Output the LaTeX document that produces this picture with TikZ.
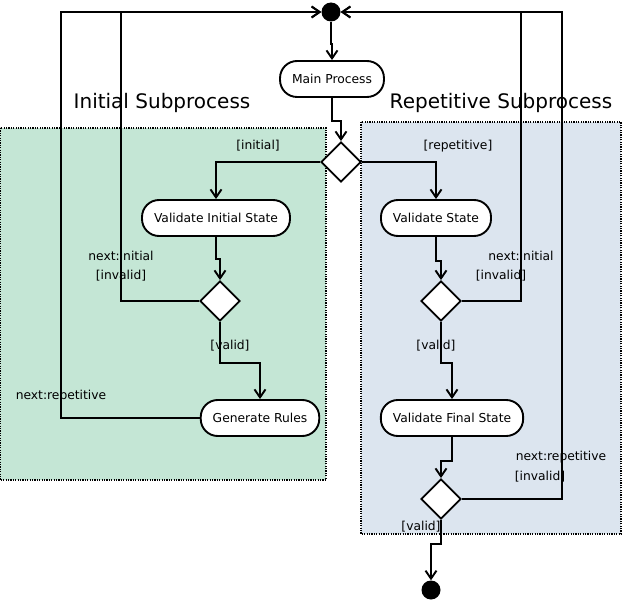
\documentclass[tikz,border=0pt]{standalone}
\usepackage{fontspec}
\setmainfont{DejaVu Sans}
\usetikzlibrary{shapes.geometric,arrows.meta}

\definecolor{initgreen}{HTML}{C4E6D5}
\definecolor{repblue}{HTML}{DCE5EF}

\tikzset{
  activity/.style={draw, line width=1.9pt, fill=white, rounded corners=17pt,
    minimum height=36pt, inner xsep=12pt, font=\fontsize{12.3}{14}\selectfont},
  decision/.style={draw, line width=1.9pt, fill=white, diamond, aspect=1,
    minimum size=40pt, inner sep=0pt},
  dot/.style={circle, fill=black, minimum size=19pt, inner sep=0pt},
  flow/.style={line width=1.9pt, -{Straight Barb[length=8pt,width=11pt,line width=1.9pt]}},
  lbl/.style={font=\fontsize{12.3}{14}\selectfont, inner sep=0pt},
  region/.style={dash pattern=on 1.2pt off 1.2pt, line width=1.4pt},
  heading/.style={font=\fontsize{20}{24}\selectfont, inner sep=0pt},
}

\begin{document}
\begin{tikzpicture}[x=1pt,y=-1pt]
            \useasboundingbox (0,0) rectangle (622,602);

            % subprocess areas
            \fill[initgreen] (0,128) rectangle (326,480);
            \draw[region] (0,128) rectangle (326,480);
            \fill[repblue] (361,122) rectangle (621,534);
            \draw[region] (361,122) rectangle (621,534);
            \node[heading] (tinit) at (162,103) {Initial Subprocess};
            \node[heading] (trep) at (501,103) {Repetitive Subprocess};

            % activities
            \node[dot] (start) at (331,12) {};
            \node[activity] (main) at (332,79) {Main Process};
            \node[decision] (d0) at (341,162) {};
            \node[activity] (vis) at (216,218) {Validate Initial State};
            \node[activity] (vs) at (436,218) {Validate State};
            \node[decision] (d1) at (220,301) {};
            \node[decision] (d2) at (441,301) {};
            \node[activity] (gen) at (260,418) {Generate Rules};
            \node[activity] (vfs) at (452,418) {Validate Final State};
            \node[decision] (d3) at (441,499) {};
            \node[dot] (finish) at (431,590) {};

            % guards
            \node[lbl] (gini) at (258,146) {[initial]};
            \node[lbl] (grep) at (458,146) {[repetitive]};
            \node[lbl] (lnext1) at (121,256) {next:initial};
            \node[lbl] (linv1) at (121,276) {[invalid]};
            \node[lbl] (lval1) at (230,346) {[valid]};
            \node[lbl] (rnext1) at (521,256) {next:initial};
            \node[lbl] (rinv1) at (501,276) {[invalid]};
            \node[lbl] (rval1) at (436,346) {[valid]};
            \node[lbl] (lnext2) at (61,396) {next:repetitive};
            \node[lbl] (rnext2) at (561,457) {next:repetitive};
            \node[lbl] (rinv2) at (540,477) {[invalid]};
            \node[lbl] (rval2) at (421,527) {[valid]};

            % main flow
            \draw[flow] (start.south) -- ++(0,22) -| (main.north);
            \draw[flow] (main.south) -- ++(0,23) -| (d0.north);
            \draw[flow] (d0.west) -| (vis.north);
            \draw[flow] (d0.east) -| (vs.north);
            \draw[flow] (vis.south) -- ++(0,22) -| (d1.north);
            \draw[flow] (vs.south) -- ++(0,24) -| (d2.north);
            \draw[flow] (d1.south) -- ++(0,41) -| (gen.north);
            \draw[flow] (d2.south) -- ++(0,41) -| (vfs.north);
            \draw[flow] (vfs.south) -- ++(0,24) -| (d3.north);
            \draw[flow] (d3.south) -- ++(0,24) -| (finish.north);

            % loops back to the start
            \coordinate (li) at (121,12);
            \coordinate (lo) at (61,12);
            \coordinate (ri) at (521,12);
            \coordinate (ro) at (562,12);
            \draw[flow] (d1.west) -| (li) -- (start.west);
            \draw[flow] (gen.west) -| (lo) -- (start.west);
            \draw[flow] (d2.east) -| (ri) -- (start.east);
            \draw[flow] (d3.east) -| (ro) -- (start.east);
        \end{tikzpicture}
\end{document}
